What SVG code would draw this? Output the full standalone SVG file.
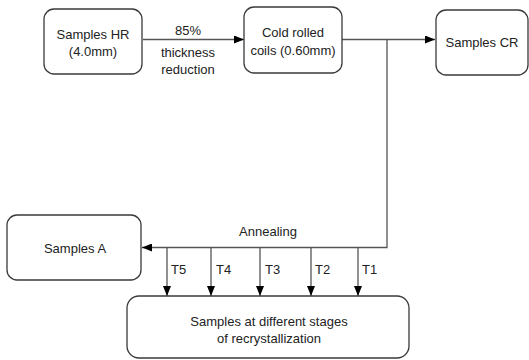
<svg xmlns="http://www.w3.org/2000/svg" width="529" height="360" viewBox="0 0 529 360">
<defs>
<marker id="ah" markerWidth="10" markerHeight="8" refX="10" refY="4" orient="auto" markerUnits="userSpaceOnUse">
<path d="M0,0 L10,4 L0,8 Z" fill="#000"/>
</marker>
<style>
.box{fill:#fff;stroke:#3a3a3a;stroke-width:1.3}
.ln{fill:none;stroke:#555;stroke-width:1.3}
text{font-family:"Liberation Sans",Arial,sans-serif;font-size:13px;fill:#222;text-anchor:middle}
.lab{text-anchor:start}
</style>
</defs>
<rect width="529" height="360" fill="#fff"/>
<g id="connectors">
<line class="ln" x1="143" y1="39.5" x2="244" y2="39.5" marker-end="url(#ah)"/>
<line class="ln" x1="342" y1="39.5" x2="435" y2="39.5" marker-end="url(#ah)"/>
<polyline class="ln" points="387,39.5 387,247.5 142,247.5" marker-end="url(#ah)"/>
<line class="ln" x1="167" y1="247.5" x2="167" y2="296" marker-end="url(#ah)"/>
<line class="ln" x1="211" y1="247.5" x2="211" y2="296" marker-end="url(#ah)"/>
<line class="ln" x1="260" y1="247.5" x2="260" y2="296" marker-end="url(#ah)"/>
<line class="ln" x1="311" y1="247.5" x2="311" y2="296" marker-end="url(#ah)"/>
<line class="ln" x1="358" y1="247.5" x2="358" y2="296" marker-end="url(#ah)"/>
<text x="188" y="35">85%</text>
<text x="188" y="57">thickness</text>
<text x="188" y="74">reduction</text>
<text x="268" y="236">Annealing</text>
<text class="lab" x="171" y="274">T5</text>
<text class="lab" x="216" y="274">T4</text>
<text class="lab" x="265" y="274">T3</text>
<text class="lab" x="315" y="274">T2</text>
<text class="lab" x="362" y="274">T1</text>
</g>
<g id="hr">
<rect class="box" x="44" y="9" width="98" height="65" rx="10"/>
<text x="93" y="39">Samples HR</text>
<text x="93" y="56">(4.0mm)</text>
</g>
<g id="cold">
<rect class="box" x="244" y="7" width="98" height="66" rx="10"/>
<text x="293" y="37">Cold rolled</text>
<text x="293" y="55">coils (0.60mm)</text>
</g>
<g id="cr">
<rect class="box" x="436" y="10" width="92" height="65" rx="10"/>
<text x="482" y="47">Samples CR</text>
</g>
<g id="a">
<rect class="box" x="7" y="215" width="134" height="65" rx="10"/>
<text x="75" y="253">Samples A</text>
</g>
<g id="stages">
<rect class="box" x="127" y="296" width="282" height="62" rx="12"/>
<text x="269" y="326">Samples at different stages</text>
<text x="269" y="343">of recrystallization</text>
</g>
</svg>
